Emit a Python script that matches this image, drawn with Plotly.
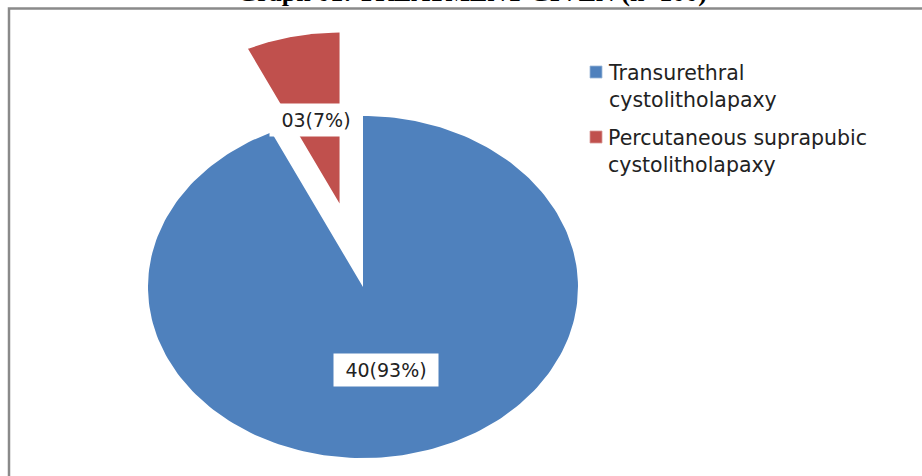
import numpy as np
import plotly.graph_objects as go

# ---- data ----
categories = ["Transurethral cystolitholapaxy", "Percutaneous suprapubic cystolitholapaxy"]
legend_labels = ["Transurethral<br>cystolitholapaxy", "Percutaneous suprapubic<br>cystolitholapaxy"]
counts = [40, 3]
percents = [93, 7]
count_labels = ["40", "03"]
colors = ["#4F81BD", "#C0504D"]
pulls = [0.0, 0.5]
title_text = "Graph 01: TREATMENT GIVEN (n=100)"

W, H = 922, 476
CX, CY, RX, RY = 363, 287, 215, 171  # pie centre / radii in pixels (layout)

fig = go.Figure()

total = sum(percents)
start = 0.0
label_pos = []
for i, (cat, p) in enumerate(zip(categories, percents)):
    a0 = start / total * 2 * np.pi
    a1 = (start + p) / total * 2 * np.pi
    mid = (a0 + a1) / 2
    ox = pulls[i] * np.sin(mid)
    oy = pulls[i] * np.cos(mid)
    t = np.linspace(a0, a1, 240)
    xs = np.concatenate([[ox], ox + np.sin(t), [ox]])
    ys = np.concatenate([[oy], oy + np.cos(t), [oy]])
    fig.add_trace(go.Scatter(x=xs, y=ys, fill="toself", mode="lines",
                             line=dict(width=0, color=colors[i]),
                             fillcolor=colors[i], name=cat, showlegend=False,
                             hoverinfo="name"))
    label_pos.append((ox + 0.5 * np.sin(mid), oy + 0.5 * np.cos(mid)))
    start += p

label_font = dict(family="DejaVu Sans", size=19, color="#222")
box_w = [104, 92]
for i, (lx, ly) in enumerate(label_pos):
    fig.add_annotation(x=lx, y=ly, text=f"{count_labels[i]}({percents[i]}%)",
                       showarrow=False, bgcolor="white", font=label_font,
                       width=box_w[i], height=32, borderpad=0)

# manual legend (square + two-line text, square aligned with first line)
leg_x_sq = 590
leg_x_txt = 606
leg_y = [66, 131]
for i in range(len(categories)):
    fig.add_shape(type="rect", xref="paper", yref="paper",
                  x0=leg_x_sq / W, x1=(leg_x_sq + 12) / W,
                  y0=1 - (leg_y[i] + 12) / H, y1=1 - leg_y[i] / H,
                  fillcolor=colors[i], line=dict(width=0.8, color="#9db7d8" if i == 0 else "#d89a98"))
    fig.add_annotation(xref="paper", yref="paper", x=leg_x_txt / W,
                       y=1 - (leg_y[i] - 7) / H, xanchor="left", yanchor="top",
                       align="left", text=legend_labels[i], showarrow=False,
                       font=dict(family="DejaVu Sans", size=20.5, color="#222"))

# title, mostly cut off at top as in the reference
fig.add_annotation(xref="paper", yref="paper", x=472 / W, y=1 - 9 / H,
                   xanchor="center", yanchor="bottom", text=f"<b>{title_text}</b>",
                   showarrow=False,
                   font=dict(family="Liberation Serif", size=26, color="black"))

# frame
fig.add_shape(type="rect", xref="paper", yref="paper",
              x0=9 / W, x1=1.02, y0=-0.02, y1=1 - 8.5 / H,
              line=dict(color="#8a8a8a", width=2.5))

fig.update_xaxes(range=[-CX / RX, (W - CX) / RX], visible=False, fixedrange=True)
fig.update_yaxes(range=[-(H - CY) / RY, CY / RY], visible=False, fixedrange=True)

fig.update_layout(
    width=W, height=H,
    margin=dict(l=0, r=0, t=0, b=0),
    paper_bgcolor="white", plot_bgcolor="white",
    showlegend=False,
)

fig.write_html("out.html", config={"displayModeBar": False},
               post_script="document.body.style.margin='0';")
